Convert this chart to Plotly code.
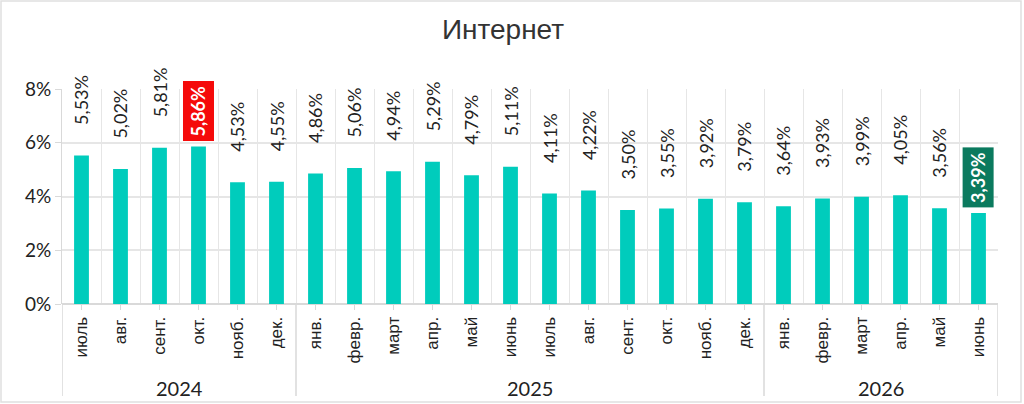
import plotly.graph_objects as go

# data
months = ["июль", "авг.", "сент.", "окт.", "нояб.", "дек.",
          "янв.", "февр.", "март", "апр.", "май", "июнь",
          "июль", "авг.", "сент.", "окт.", "нояб.", "дек.",
          "янв.", "февр.", "март", "апр.", "май", "июнь"]
years = ["2024"] * 6 + ["2025"] * 12 + ["2026"] * 6
values = [5.53, 5.02, 5.81, 5.86, 4.53, 4.55,
          4.86, 5.06, 4.94, 5.29, 4.79, 5.11,
          4.11, 4.22, 3.50, 3.55, 3.92, 3.79,
          3.64, 3.93, 3.99, 4.05, 3.56, 3.39]
y_ticks = [0, 2, 4, 6, 8]
highlight = {3: "#f50a0a", 23: "#0b7a5e"}

W, H = 1024, 404
ML, MR, MT, MB = 62, 26, 89, 100
pw, ph = W - ML - MR, H - MT - MB

xs = list(range(len(values)))
bar_color = "#00ccbc"
grid = "#e6e6e6"
geo_font = "Lato, Open Sans, sans-serif"

fig = go.Figure()
fig.add_trace(go.Bar(x=xs, y=values, width=0.38,
                     marker=dict(color=bar_color, line=dict(width=0)),
                     hoverinfo="skip"))

def fmt(v):
    return f"{v:.2f}%".replace(".", ",")

for i, v in enumerate(values):
    if i in highlight:
        fig.add_annotation(x=i, y=v, text="<b>" + fmt(v) + "</b>", textangle=-90,
                           showarrow=False, yanchor="bottom", yshift=5,
                           bgcolor=highlight[i], borderpad=4,
                           font=dict(family=geo_font, size=18, color="white"))
    else:
        fig.add_annotation(x=i, y=v, text=fmt(v), textangle=-90,
                           showarrow=False, yanchor="bottom", yshift=28,
                           font=dict(family=geo_font, size=18, color="#222"))

# year groups: dividers and labels
starts = [i for i in range(len(years)) if i == 0 or years[i] != years[i - 1]]
bounds = starts + [len(years)]
for b in bounds:
    fig.add_shape(type="line", xref="x", yref="paper", x0=b - 0.5, x1=b - 0.5,
                  y0=0, y1=-92 / ph, line=dict(color="#d9d9d9", width=1.5))
for s, e in zip(bounds[:-1], bounds[1:]):
    fig.add_annotation(x=(s + e - 1) / 2, xref="x", y=-84 / ph, yref="paper",
                       text=years[s], showarrow=False, yanchor="middle",
                       font=dict(family=geo_font, size=20, color="#222"))

# outer frame
fig.add_shape(type="rect", xref="paper", yref="paper",
              x0=(1 - ML) / pw, x1=(W - 3 - ML) / pw,
              y0=-(H - 2 - MT - ph) / ph, y1=(MT - 1) / ph + 1,
              line=dict(color="#e0e0e0", width=1.5))

fig.update_layout(
    width=W, height=H,
    margin=dict(l=ML, r=MR, t=MT, b=MB),
    paper_bgcolor="white", plot_bgcolor="white",
    showlegend=False,
    title=dict(text="Интернет", x=503 / W, xanchor="center", y=1 - 29 / H, yanchor="middle",
               font=dict(family="Liberation Sans, Arial", size=28, color="#333")),
    bargap=0.6,
)
fig.update_xaxes(range=[-0.5, len(values) - 0.5], tickmode="array",
                 tickvals=xs, ticktext=months, tickangle=-90,
                 ticks="outside", ticklen=5, tickcolor="#d9d9d9",
                 showgrid=False, zeroline=False,
                 showline=False,
                 tickfont=dict(family="Liberation Sans, Arial", size=17, color="#222"),
                 minor=dict(tickmode="array", tickvals=[i - 0.5 for i in range(len(values) + 1)],
                            showgrid=True, gridcolor=grid, gridwidth=1, ticks=""))
fig.update_yaxes(range=[0, 8], tickmode="array", tickvals=y_ticks,
                 ticktext=[f"{t}%" for t in y_ticks],
                 showgrid=True, gridcolor=grid, gridwidth=1.5,
                 zeroline=True, zerolinecolor="#d9d9d9", zerolinewidth=1.5,
                 ticks="outside", ticklen=6, tickcolor="#d9d9d9",
                 showline=True, linecolor="#d9d9d9",
                 tickfont=dict(family=geo_font, size=19, color="#222"))

# page margin off so the figure sits at the window's corner
fig.write_html("out.html", config={"displayModeBar": False},
               post_script="document.body.style.margin='0';")
